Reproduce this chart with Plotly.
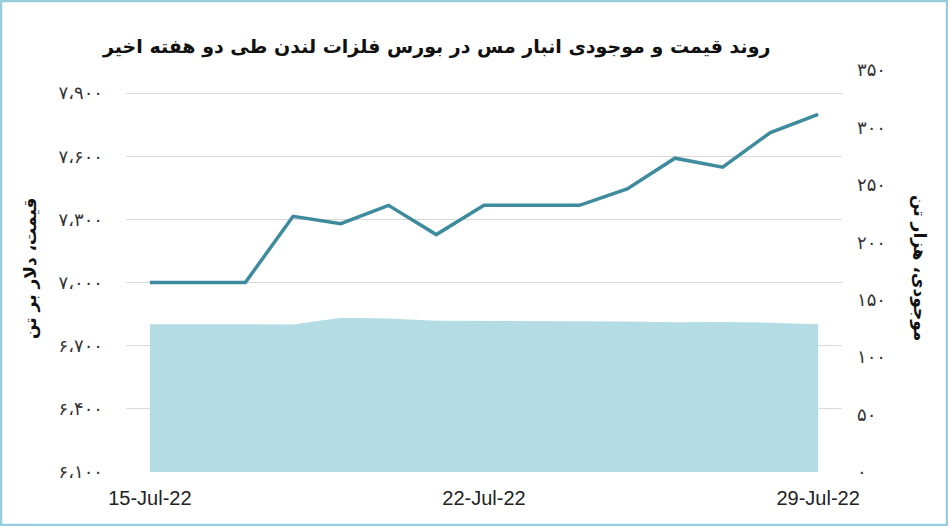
import plotly.graph_objects as go

# copper price (USD/t) and LME stock (thousand t), 15-29 Jul 2022
dates = ["2022-07-15", "2022-07-16", "2022-07-17", "2022-07-18", "2022-07-19",
         "2022-07-20", "2022-07-21", "2022-07-22", "2022-07-23", "2022-07-24",
         "2022-07-25", "2022-07-26", "2022-07-27", "2022-07-28", "2022-07-29"]
price = [7000, 7000, 7000, 7315, 7280, 7367, 7228, 7367, 7367, 7367,
         7445, 7591, 7548, 7713, 7799]
stock = [128.7, 128.7, 128.7, 128.5, 134.2, 133.6, 131.6, 131.6, 131.6, 131.5,
         131.0, 130.4, 130.6, 130.0, 128.7]

x_tickvals = ["2022-07-15", "2022-07-22", "2022-07-29"]
x_ticktext = ["15-Jul-22", "22-Jul-22", "29-Jul-22"]
left_tickvals = [6100, 6400, 6700, 7000, 7300, 7600, 7900]
left_ticktext = ["۶،۱۰۰", "۶،۴۰۰", "۶،۷۰۰", "۷،۰۰۰", "۷،۳۰۰", "۷،۶۰۰", "۷،۹۰۰"]
right_tickvals = [0, 50, 100, 150, 200, 250, 300, 350]
right_ticktext = ["۰", "۵۰", "۱۰۰", "۱۵۰", "۲۰۰", "۲۵۰", "۳۰۰", "۳۵۰"]

title = "روند قیمت و موجودی انبار مس در بورس فلزات لندن طی دو هفته اخیر"
left_title = "قیمت، دلار بر تن"
right_title = "موجودی، هزار تن"

W, H = 948, 526
L, R, T, B = 126, 106, 70, 54
pw, ph = W - L - R, H - T - B
fa_font = "DejaVu Sans"

fig = go.Figure()
fig.add_trace(go.Scatter(x=dates, y=stock, yaxis="y2", mode="lines",
                         line=dict(width=0, color="#B4DCE5"), fill="tozeroy",
                         fillcolor="#B4DCE5", showlegend=False))
fig.add_trace(go.Scatter(x=dates, y=price, mode="lines",
                         line=dict(width=3.5, color="#3F8B9E"), showlegend=False))

fig.update_layout(
    width=W, height=H,
    margin=dict(l=L, r=R, t=T, b=B),
    paper_bgcolor="white", plot_bgcolor="white",
    xaxis=dict(type="date", range=["2022-07-14 12:00", "2022-07-29 12:00"],
               tickvals=x_tickvals, ticktext=x_ticktext, showgrid=False,
               ticks="", ticklabelstandoff=12,
               tickfont=dict(family="Liberation Sans Narrow, Liberation Sans", size=20, color="#222")),
    yaxis=dict(range=[6100, 8010], tickvals=left_tickvals, ticktext=left_ticktext,
               showgrid=True, gridcolor="#D9D9D9", gridwidth=1, zeroline=False,
               ticks="", ticklabelstandoff=22,
               tickfont=dict(family=fa_font, size=18, color="#333")),
    yaxis2=dict(range=[0, 350], tickvals=right_tickvals, ticktext=right_ticktext,
                overlaying="y", side="right", showgrid=False, zeroline=False,
                ticks="", ticklabelstandoff=14,
                tickfont=dict(family=fa_font, size=18, color="#333")),
)

def px_x(p):
    return (p - L) / pw

def px_y(p):
    return (H - B - p) / ph

fig.add_annotation(text="<b>" + title + "</b>", xref="paper", yref="paper",
                   x=px_x(436), y=px_y(46), xanchor="center", yanchor="middle",
                   showarrow=False, font=dict(family=fa_font, size=19, color="#111"))
fig.add_annotation(text="<b>" + left_title + "</b>", xref="paper", yref="paper",
                   x=px_x(30), y=px_y(268), xanchor="center", yanchor="middle",
                   showarrow=False, textangle=-90,
                   font=dict(family=fa_font, size=17, color="#111"))
fig.add_annotation(text="<b>" + right_title + "</b>", xref="paper", yref="paper",
                   x=px_x(920), y=px_y(268), xanchor="center", yanchor="middle",
                   showarrow=False, textangle=90,
                   font=dict(family=fa_font, size=17, color="#111"))

# light blue frame round the picture
fig.add_shape(type="rect", xref="paper", yref="paper",
              x0=px_x(1), x1=px_x(947), y0=px_y(525), y1=px_y(1),
              line=dict(color="#96CCDB", width=2.5), layer="above")

fig.write_html("out.html", config={"displayModeBar": False},
               post_script="document.body.style.margin='0';")
